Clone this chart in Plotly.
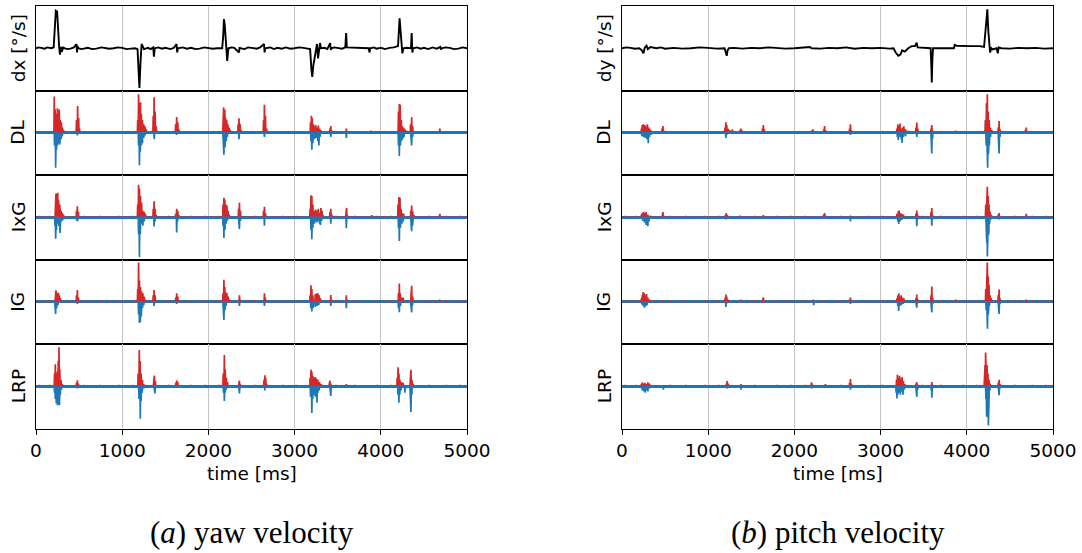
import plotly.graph_objects as go
from plotly.subplots import make_subplots

# ---------------- data (time in ms, values normalised to [-1, 1]) ----------------
ROW_NAMES = ["dx [°/s]", "DL", "IxG", "IG", "LRP"]
ROW_NAMES_B = ["dy [°/s]", "DL", "IxG", "IG", "LRP"]
CAPTIONS = ["(<i>a</i>) yaw velocity", "(<i>b</i>) pitch velocity"]
X_TICKS = [0, 1000, 2000, 3000, 4000, 5000]

# ground-truth angular velocity (black line)
dx_t = [0, 30, 60, 100, 130, 150, 180, 205, 218, 230, 245, 258, 268, 278, 290, 300, 315, 330, 360, 400, 440, 470,
        476, 482, 490, 530, 600, 650, 700, 760, 800, 850, 900, 950, 1000, 1050, 1100, 1150, 1178, 1190, 1200, 1212,
        1225, 1240, 1252, 1300, 1330, 1360, 1368, 1378, 1420, 1460, 1500, 1560, 1600, 1630, 1638, 1646, 1700,
        1750, 1800, 1850, 1900, 1950, 2000, 2050, 2100, 2160, 2172, 2180, 2190, 2205, 2218, 2232, 2270, 2300,
        2355, 2362, 2370, 2420, 2460, 2500, 2560, 2600, 2645, 2652, 2660, 2720, 2760, 2800, 2850, 2900, 2950,
        3000, 3050, 3100, 3140, 3180, 3195, 3205, 3218, 3235, 3248, 3260, 3272, 3283, 3295, 3305, 3350, 3380,
        3412, 3420, 3428, 3460, 3500, 3550, 3588, 3598, 3606, 3860, 3868, 3878, 3920, 3950, 4000, 4050, 4100,
        4150, 4200, 4210, 4218, 4228, 4240, 4250, 4262, 4300, 4350, 4358, 4366, 4375, 4420, 4460, 4500, 4550,
        4600, 4650, 4690, 4698, 4706, 4750, 4800, 4850, 4900, 4950, 5000]
dx_v = [0, 0.02, 0.01, -0.01, 0.02, 0.01, 0, 0.02, 0.6, 0.89, 0.87, 0.3, 0.05, -0.15, 0.03, -0.08, 0.02, 0,
        -0.02, -0.01, 0.02, 0.1, -0.1, 0.05, 0, -0.02, 0.01, -0.02, -0.01, 0.02, 0.01, -0.01, 0, 0.02, 0.01, -0.02,
        -0.01, 0, -0.02, -0.6, -0.94, -0.35, 0.1, 0.04, -0.02, 0.01, -0.02, 0.02, -0.2, 0, 0.02, -0.01, 0.01,
        -0.02, 0.01, 0.1, -0.1, 0, 0.02, -0.01, 0.01, -0.02, -0.01, 0.02, 0.01, -0.01, 0, 0, 0.3, 0.69, 0.55, -0.05,
        -0.3, 0, 0.02, 0.01, -0.1, 0.02, 0, -0.02, 0.02, 0.01, -0.01, 0.02, 0.1, -0.1, 0, 0.02, -0.02, 0.01,
        -0.01, 0.02, -0.01, 0, 0.02, 0.01, -0.01, -0.02, -0.5, -0.68, -0.4, -0.15, -0.05, 0.1, -0.24, -0.05,
        0.12, 0, 0.01, -0.02, 0.12, -0.04, 0, 0.02, 0.01, -0.01, 0.02, 0.36, 0.02, 0, -0.1, 0, 0.02, -0.01, 0.01,
        -0.02, 0.01, 0.02, 0.05, 0.5, 0.71, 0.45, 0.05, -0.12, 0, 0.01, 0, 0.36, -0.1, 0, 0.02, -0.01, 0.01,
        -0.02, 0.02, -0.01, 0.03, -0.03, 0, 0.02, 0.01, -0.02, -0.01, 0.02, 0]

dy_t = [0, 50, 100, 150, 200, 230, 248, 265, 285, 300, 330, 400, 450, 500, 600, 700, 800, 900, 1000, 1100,
        1190, 1205, 1215, 1225, 1240, 1300, 1400, 1500, 1600, 1700, 1800, 1900, 2000, 2100, 2180, 2200, 2300,
        2400, 2500, 2600, 2700, 2800, 2900, 3000, 3100, 3150, 3175, 3205, 3230, 3250, 3280, 3320, 3360, 3400,
        3418, 3430, 3500, 3580, 3590, 3594, 3600, 3608, 3850, 3860, 3880, 3950, 4050, 4150, 4200, 4225, 4238,
        4250, 4260, 4270, 4285, 4300, 4345, 4360, 4370, 4400, 4500, 4600, 4700, 4800, 4900, 5000]
dy_v = [0, 0.02, 0.01, -0.01, 0, -0.05, -0.12, 0.02, 0.06, -0.02, 0.03, 0, 0.02, -0.01, 0.01, -0.01, 0, 0.02,
        0.01, -0.01, 0, -0.12, -0.18, -0.05, 0, 0.01, -0.01, 0.01, 0, 0.02, 0.01, -0.01, 0, 0.01, 0.03, 0, -0.01,
        0.01, 0, 0.02, -0.01, 0.01, 0, 0.01, -0.01, 0, -0.1, -0.18, -0.15, -0.05, -0.08, 0, 0.05, 0.05, 0.13,
        0.02, 0.01, 0, -0.5, -0.81, -0.3, 0, 0, 0.08, 0.06, 0.05, 0.05, 0.05, 0.03, 0.6, 0.92, 0.4, 0.02, -0.1, 0,
        -0.03, 0, -0.12, 0.02, 0, -0.01, 0.01, 0, 0.01, -0.01, 0]

# relevance spikes: (time, value)   positive -> red, negative -> blue
DL_yaw_pos = [(212, .86), (222, .55), (235, .45), (248, .58), (258, .35), (270, .55), (282, .3), (295, .25), (308, .12),
              (320, .06), (470, .3), (483, .63), (495, .35), (505, .1), (1180, .3), (1190, .91), (1200, .7), (1212, .72),
              (1222, .45), (1235, .3), (1250, .2), (1265, .15), (1280, .08), (1360, .4), (1370, .84), (1382, .5),
              (1395, .15), (1620, .2), (1632, .37), (1645, .25), (1658, .08), (2170, .4), (2177, .6), (2190, .55),
              (2200, .35), (2212, .3), (2225, .2), (2240, .12), (2255, .06), (2345, .2), (2355, .34), (2368, .2),
              (2380, .06), (2640, .3), (2650, .66), (2662, .4), (2675, .1), (3185, .25), (3195, .4), (3205, .35),
              (3218, .2), (3230, .15), (3245, .18), (3260, .12), (3275, .17), (3290, .1), (3305, .06), (3410, .1),
              (3420, .16), (3432, .05), (3600, .1), (3885, .05), (4205, .5), (4215, .68), (4225, .66), (4238, .3),
              (4250, .15), (4265, .12), (4280, .08), (4300, .05), (4345, .2), (4358, .37), (4370, .15), (4685, .1)]
DL_yaw_neg = [(215, -.3), (228, -.83), (238, -.4), (250, -.3), (262, -.25), (275, -.28), (290, -.15), (305, -.08),
              (480, -.06), (1190, -.3), (1200, -.77), (1210, -.45), (1222, -.3), (1235, -.25), (1250, -.12),
              (1265, -.06), (1372, -.15), (1632, -.05), (2172, -.3), (2180, -.52), (2192, -.35), (2205, -.2),
              (2220, -.1), (2355, -.15), (2650, -.1), (3190, -.2), (3200, -.4), (3212, -.25), (3230, -.15),
              (3250, -.12), (3270, -.2), (3282, -.3), (3295, -.1), (3420, -.1), (3600, -.12), (4205, -.3),
              (4215, -.55), (4228, -.3), (4240, -.2), (4255, -.15), (4270, -.1), (4350, -.2), (4358, -.3), (4370, -.1)]

IxG_yaw_pos = [(225, .4), (232, .56), (242, .55), (252, .58), (262, .4), (275, .3), (290, .15), (305, .1), (320, .05),
               (470, .15), (480, .26), (492, .12), (1180, .3), (1190, .77), (1200, .68), (1212, .5), (1225, .35),
               (1240, .15), (1255, .12), (1270, .08), (1360, .2), (1370, .38), (1382, .2), (1395, .05), (1620, .08),
               (1632, .2), (1645, .15), (1658, .05), (2170, .3), (2180, .46), (2190, .42), (2202, .3), (2215, .28),
               (2228, .15), (2240, .06), (2350, .2), (2360, .34), (2372, .15), (2640, .15), (2650, .25), (2662, .1),
               (3180, .2), (3190, .52), (3200, .5), (3212, .3), (3225, .15), (3245, .18), (3260, .15), (3275, .2),
               (3290, .1), (3305, .22), (3318, .15), (3330, .05), (3410, .12), (3420, .2), (3432, .06), (3595, .15),
               (3603, .22), (3612, .05), (3895, .05), (4200, .3), (4210, .48), (4222, .46), (4235, .2), (4250, .1),
               (4265, .08), (4348, .15), (4358, .28), (4370, .14), (4385, .05), (4685, .08)]
IxG_yaw_neg = [(220, -.2), (228, -.51), (238, -.3), (250, -.15), (265, -.2), (278, -.37), (290, -.1), (305, -.08),
               (320, -.05), (470, -.06), (480, -.1), (492, -.05), (1190, -.4), (1200, -.94), (1210, -.4), (1222, -.15),
               (1240, -.2), (1255, -.1), (1370, -.22), (1380, -.1), (1632, -.36), (1642, -.1), (2170, -.2),
               (2180, -.49), (2192, -.3), (2205, -.15), (2220, -.08), (2352, -.15), (2360, -.28), (2372, -.08),
               (2650, -.2), (3190, -.3), (3200, -.52), (3212, -.25), (3230, -.15), (3255, -.12), (3270, -.1),
               (3290, -.15), (3300, -.18), (3315, -.08), (3420, -.15), (3600, -.26), (4205, -.25), (4215, -.56),
               (4228, -.25), (4245, -.15), (4260, -.1), (4350, -.15), (4358, -.33), (4368, -.2), (4380, -.05)]

IG_yaw_pos = [(225, .2), (232, .27), (245, .2), (258, .22), (270, .15), (285, .08), (470, .15), (480, .28), (492, .1),
              (1180, .3), (1190, .93), (1200, .5), (1212, .35), (1225, .25), (1240, .2), (1255, .12), (1270, .05),
              (1360, .15), (1370, .28), (1382, .15), (1622, .1), (1632, .2), (1645, .12), (2170, .2), (2180, .52),
              (2190, .35), (2202, .22), (2215, .2), (2230, .12), (2245, .05), (2360, .15), (2370, .05), (2650, .2),
              (2660, .1), (3180, .15), (3190, .39), (3200, .3), (3212, .15), (3240, .18), (3255, .2), (3270, .2),
              (3285, .15), (3300, .08), (3420, .16), (3430, .05), (3600, .15), (3610, .05), (4205, .2), (4215, .43),
              (4225, .2), (4240, .1), (4260, .1), (4350, .2), (4358, .38), (4370, .12), (4685, .05)]
IG_yaw_neg = [(222, -.15), (228, -.29), (240, -.15), (255, -.08), (480, -.05), (1190, -.3), (1200, -.5), (1210, -.48),
              (1222, -.35), (1235, -.15), (1250, -.08), (1370, -.1), (1632, -.05), (2172, -.2), (2180, -.43),
              (2192, -.2), (2205, -.1), (2360, -.1), (2650, -.1), (3190, -.15), (3200, -.23), (3215, -.15),
              (3240, -.12), (3260, -.1), (3280, -.08), (3420, -.1), (3600, -.15), (4205, -.15), (4215, -.25),
              (4228, -.1), (4350, -.15), (4358, -.25), (4368, -.08)]

LRP_yaw_pos = [(215, .3), (224, .52), (235, .3), (248, .35), (258, .6), (267, .92), (276, .4), (290, .15), (305, .05),
               (470, .08), (480, .14), (492, .06), (1185, .3), (1198, .86), (1208, .6), (1220, .3), (1235, .15),
               (1250, .05), (1365, .15), (1373, .25), (1385, .12), (1622, .08), (1632, .14), (1645, .1), (2172, .3),
               (2185, .74), (2195, .4), (2208, .2), (2222, .1), (2352, .08), (2360, .13), (2370, .05), (2645, .15),
               (2655, .26), (2665, .2), (2675, .05), (3180, .2), (3190, .39), (3200, .35), (3212, .25), (3225, .2),
               (3240, .22), (3255, .18), (3270, .15), (3290, .1), (3310, .05), (3402, .08), (3410, .13), (3420, .06),
               (3600, .05), (4190, .2), (4200, .45), (4210, .3), (4222, .15), (4240, .1), (4260, .08), (4342, .2),
               (4350, .39), (4360, .15), (4375, .05)]
LRP_yaw_neg = [(215, -.15), (224, -.3), (235, -.4), (248, -.45), (260, -.44), (272, -.45), (282, -.2), (295, -.08),
               (480, -.05), (1195, -.3), (1210, -.77), (1220, -.35), (1232, -.15), (1250, -.05), (1372, -.1),
               (1380, -.17), (1390, -.05), (2175, -.15), (2185, -.35), (2195, -.15), (2205, -.08), (2355, -.1),
               (2360, -.17), (2370, -.05), (2655, -.1), (3185, -.25), (3200, -.63), (3210, -.3), (3225, -.2),
               (3240, -.25), (3260, -.39), (3270, -.15), (3285, -.1), (3412, -.1), (3420, -.23), (3430, -.05),
               (4200, -.2), (4210, -.39), (4220, -.2), (4235, -.1), (4280, -.15), (4290, -.05), (4342, -.2),
               (4350, -.61), (4360, -.2)]

DL_pitch_pos = [(225, .1), (235, .18), (245, .2), (255, .12), (265, .18), (280, .15), (295, .2), (310, .12), (325, .08),
                (340, .05), (465, .1), (475, .16), (488, .05), (1195, .12), (1205, .25), (1215, .18), (1230, .1),
                (1250, .06), (1280, .08), (1300, .04), (1370, .06), (1380, .1), (1395, .05), (1630, .1), (1640, .18),
                (1650, .08), (2200, .05), (2215, .08), (2340, .08), (2350, .16), (2360, .06), (2640, .1), (2650, .2),
                (2660, .06), (3190, .1), (3200, .2), (3212, .15), (3225, .22), (3240, .1), (3255, .12), (3270, .15),
                (3290, .08), (3320, .05), (3410, .12), (3420, .24), (3432, .1), (3585, .1), (3594, .18), (3604, .05),
                (3870, .05), (4215, .3), (4228, .7), (4238, .91), (4248, .5), (4260, .3), (4275, .12), (4290, .06),
                (4365, .12), (4375, .28), (4385, .08), (4680, .06), (4690, .12), (4700, .04)]
DL_pitch_neg = [(230, -.08), (250, -.1), (270, -.12), (290, -.15), (305, -.25), (318, -.1), (335, -.05), (1205, -.12),
                (1215, -.05), (2650, -.05), (3195, -.1), (3205, -.17), (3220, -.1), (3240, -.15), (3250, -.24),
                (3265, -.1), (3290, -.08), (3420, -.1), (3588, -.2), (3594, -.49), (3602, -.15), (4225, -.3),
                (4235, -.6), (4242, -.83), (4252, -.5), (4262, -.3), (4275, -.1), (4368, -.2), (4375, -.49),
                (4385, -.1)]

IxG_pitch_pos = [(225, .06), (235, .1), (250, .13), (265, .1), (280, .12), (300, .06), (330, .04), (468, .06),
                 (475, .12), (485, .04), (1200, .06), (1210, .1), (1222, .05), (1370, .04), (1640, .05), (2340, .06),
                 (2350, .1), (2360, .04), (2650, .04), (3190, .08), (3205, .14), (3215, .16), (3230, .1), (3245, .08),
                 (3265, .06), (3410, .08), (3420, .16), (3430, .06), (3585, .12), (3594, .22), (3604, .05), (4220, .3),
                 (4230, .6), (4238, .72), (4248, .5), (4258, .3), (4270, .12), (4285, .05), (4365, .06), (4375, .1),
                 (4690, .08)]
IxG_pitch_neg = [(240, -.08), (260, -.12), (280, -.18), (300, -.21), (315, -.1), (330, -.04), (1205, -.05),
                 (2650, -.1), (3200, -.1), (3210, -.16), (3225, -.1), (3245, -.06), (3420, -.21), (3430, -.05),
                 (3594, -.2), (3604, -.05), (4225, -.3), (4232, -.6), (4238, -.93), (4246, -.5), (4255, -.41),
                 (4265, -.15), (4280, -.05), (4375, -.05)]

IG_pitch_pos = [(225, .08), (235, .15), (245, .23), (258, .2), (270, .15), (285, .18), (300, .1), (320, .05), (475, .04),
                (1195, .08), (1205, .17), (1215, .12), (1230, .05), (1380, .05), (1632, .06), (1640, .1), (1650, .04),
                (2215, .05), (2350, .04), (2640, .05), (2650, .1), (2660, .04), (3190, .08), (3200, .15), (3212, .2),
                (3225, .12), (3240, .15), (3255, .1), (3270, .08), (3410, .08), (3420, .17), (3430, .06), (3585, .15),
                (3594, .36), (3604, .1), (3870, .05), (3885, .04), (4220, .3), (4230, .7), (4238, .93), (4248, .6),
                (4258, .4), (4270, .15), (4285, .08), (4365, .15), (4375, .29), (4385, .08), (4690, .05)]
IG_pitch_neg = [(230, -.06), (245, -.1), (260, -.14), (275, -.1), (290, -.08), (1205, -.12), (1215, -.04), (2225, -.08),
                (2650, -.05), (3200, -.1), (3210, -.22), (3222, -.1), (3240, -.08), (3260, -.05), (3412, -.08),
                (3420, -.14), (3430, -.04), (3588, -.1), (3594, -.25), (3604, -.05), (4225, -.2), (4235, -.45),
                (4240, -.64), (4250, -.3), (4262, -.1), (4368, -.1), (4375, -.29), (4385, -.05)]

LRP_pitch_pos = [(225, .05), (235, .09), (250, .06), (265, .08), (280, .05), (300, .09), (320, .06), (1210, .06),
                 (1220, .12), (1232, .06), (1380, .05), (2195, .05), (2200, .09), (2210, .04), (2360, .05), (2640, .08),
                 (2650, .17), (2660, .06), (3185, .15), (3195, .27), (3205, .2), (3220, .25), (3235, .18), (3250, .22),
                 (3265, .12), (3280, .05), (3410, .06), (3420, .1), (3430, .04), (3594, .1), (3604, .03), (4205, .2),
                 (4212, .5), (4218, .8), (4226, .6), (4235, .5), (4245, .3), (4258, .15), (4270, .06), (4365, .08),
                 (4375, .15), (4385, .05)]
LRP_pitch_neg = [(235, -.1), (255, -.12), (270, -.15), (285, -.1), (300, -.12), (318, -.05), (480, -.08), (1220, -.05),
                 (1380, -.08), (2200, -.05), (2650, -.08), (3180, -.15), (3190, -.29), (3200, -.2), (3215, -.15),
                 (3230, -.2), (3245, -.12), (3260, -.2), (3275, -.08), (3412, -.1), (3420, -.25), (3430, -.08),
                 (3588, -.1), (3594, -.27), (3604, -.05), (4222, -.3), (4230, -.72), (4240, -.6), (4250, -.93),
                 (4258, -.4), (4268, -.1), (4368, -.1), (4375, -.21), (4385, -.05)]

# small positive relevance flecks along the baseline
BASE_RED = [(40, .03), (120, .02), (160, .03), (380, .02), (560, .03), (650, .02), (740, .03), (860, .02), (960, .03),
            (1060, .02), (1120, .03), (1480, .02), (1540, .03), (1720, .02), (1800, .03), (1880, .02), (1960, .03),
            (2060, .02), (2120, .03), (2460, .02), (2540, .03), (2780, .02), (2860, .03), (2940, .02), (3020, .03),
            (3100, .02), (3480, .03), (3540, .02), (3700, .03), (3780, .02), (3960, .03), (4040, .02), (4120, .03),
            (4480, .02), (4560, .03), (4620, .02), (4760, .03), (4840, .02), (4920, .03), (4980, .02)]

YAW_ROWS = [(DL_yaw_pos, DL_yaw_neg), (IxG_yaw_pos, IxG_yaw_neg), (IG_yaw_pos, IG_yaw_neg), (LRP_yaw_pos, LRP_yaw_neg)]
PITCH_ROWS = [(DL_pitch_pos, DL_pitch_neg), (IxG_pitch_pos, IxG_pitch_neg), (IG_pitch_pos, IG_pitch_neg),
              (LRP_pitch_pos, LRP_pitch_neg)]

RED = "#d62728"
BLUE = "#1f77b4"
SANS = "DejaVu Sans, Verdana, sans-serif"
FS = 18.5
W, H = 1082, 553
HALF = 4  # half-width of a spike in ms


def spikes(events):
    pts = []
    for t, v in events:
        pts += [(t - HALF, 0.0), (t, v), (t + HALF, 0.0)]
    pts.sort(key=lambda p: p[0])
    return [0] + [p[0] for p in pts] + [5000], [0] + [p[1] for p in pts] + [0]


fig = make_subplots(rows=5, cols=2)

# pixel geometry
col_px = [(36, 467), (622, 1053)]
row_px = [6, 90.5, 175, 259.5, 344, 428.5]

for c, (black_t, black_v, rows) in enumerate([(dx_t, dx_v, YAW_ROWS), (dy_t, dy_v, PITCH_ROWS)], start=1):
    fig.add_trace(go.Scatter(x=black_t, y=black_v, mode="lines", line=dict(color="black", width=1.9),
                             showlegend=False, hoverinfo="skip"), row=1, col=c)
    for r, (pos, neg) in enumerate(rows, start=2):
        px_, py_ = spikes(pos + BASE_RED)
        nx_, ny_ = spikes(neg)
        fig.add_trace(go.Scatter(x=px_, y=py_, mode="lines", line=dict(color=RED, width=1.7),
                                 showlegend=False, hoverinfo="skip"), row=r, col=c)
        fig.add_trace(go.Scatter(x=nx_, y=ny_, mode="lines", line=dict(color=BLUE, width=1.7),
                                 showlegend=False, hoverinfo="skip"), row=r, col=c)

for r in range(1, 6):
    for c in range(1, 3):
        idx = (r - 1) * 2 + c
        xs = "xaxis" if idx == 1 else f"xaxis{idx}"
        ys = "yaxis" if idx == 1 else f"yaxis{idx}"
        x0, x1 = col_px[c - 1]
        ytop, ybot = row_px[r - 1], row_px[r]
        bottom = r == 5
        fig.layout[xs].update(
            domain=[x0 / W, x1 / W], range=[0, 5000], tickvals=X_TICKS, automargin=False,
            showticklabels=bottom, ticks="outside" if bottom else "", ticklen=5, tickwidth=1.2, tickcolor="black",
            showgrid=True, gridcolor="#c4c4c4", gridwidth=1.2, zeroline=False,
            showline=True, mirror=True, linecolor="black", linewidth=1.4,
            tickfont=dict(family=SANS, size=FS, color="black"))
        fig.layout[ys].update(
            domain=[1 - ybot / H, 1 - ytop / H], range=[-1, 1], showticklabels=False, ticks="", automargin=False,
            showgrid=False, zeroline=(r > 1), zerolinecolor=BLUE, zerolinewidth=2.5,
            showline=True, mirror=True, linecolor="black", linewidth=1.4)

annotations = []
for c, names in enumerate([ROW_NAMES, ROW_NAMES_B]):
    x0, x1 = col_px[c]
    for r, name in enumerate(names):
        yc = (row_px[r] + row_px[r + 1]) / 2
        annotations.append(dict(text=name, x=(x0 - 18) / W, y=1 - yc / H, xref="paper", yref="paper",
                                xanchor="center", yanchor="middle", textangle=-90, showarrow=False,
                                font=dict(family=SANS, size=FS, color="black")))
    annotations.append(dict(text="time [ms]", x=(x0 + x1) / 2 / W, y=1 - 473 / H, xref="paper", yref="paper",
                            xanchor="center", yanchor="middle", showarrow=False,
                            font=dict(family=SANS, size=FS, color="black")))
    annotations.append(dict(text=CAPTIONS[c], x=(x0 + x1) / 2 / W, y=1 - 532 / H, xref="paper", yref="paper",
                            xanchor="center", yanchor="middle", showarrow=False,
                            font=dict(family="Liberation Serif, serif", size=31, color="black")))

fig.update_layout(width=W, height=H, margin=dict(l=0, r=0, t=0, b=0, pad=0, autoexpand=False),
                  plot_bgcolor="white", paper_bgcolor="white", annotations=annotations, showlegend=False,
                  font=dict(family=SANS, color="black"))

fig.write_html("out.html")
